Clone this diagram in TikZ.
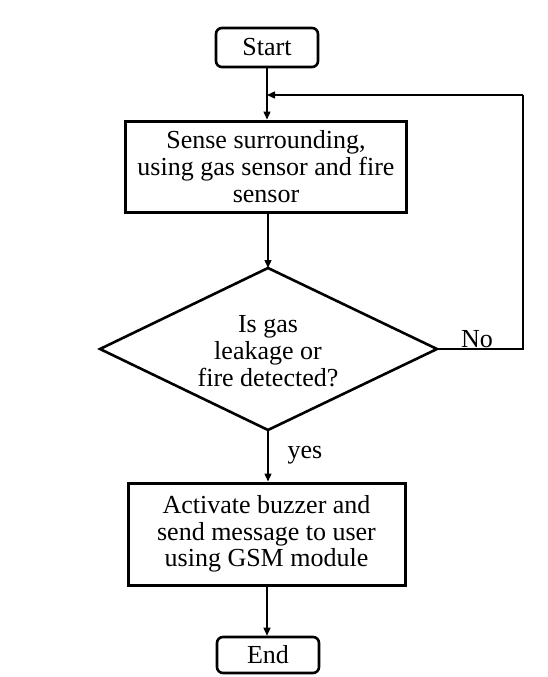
\documentclass[tikz,border=0pt]{standalone}
\usepackage{fontspec}
\setmainfont{Liberation Serif}
\usetikzlibrary{arrows.meta}
\begin{document}
\begin{tikzpicture}[x=1pt,y=-1pt,
  every node/.style={font=\fontsize{26}{26.7}\selectfont, align=center, inner sep=0pt},
  term/.style={draw, line width=2.6pt, rounded corners=6pt},
  proc/.style={draw, line width=3pt},
  conn/.style={line width=1.3pt},
  arr/.style={conn, -{Triangle[length=8pt,width=7pt]}}]
\useasboundingbox[fill=white] (0,0) rectangle (548,677);
\node[term, minimum width=102pt, minimum height=39pt] (start) at (267,47.5) {Start};
\node[proc, minimum width=281pt, minimum height=91pt] (sense) at (266,166.5) {Sense surrounding,\\using gas sensor and fire\\sensor};
\coordinate (dT) at (268,268);
\coordinate (dR) at (437,349);
\coordinate (dB) at (268,430);
\coordinate (dL) at (100,349);
\draw[line width=2.6pt, line join=miter] (dT) -- (dR) -- (dB) -- (dL) -- cycle;
\node (q) at (268,351) {Is gas\\leakage or\\fire detected?};
\node[proc, minimum width=277pt, minimum height=102pt] (act) at (266.5,534) {Activate buzzer and\\send message to user\\using GSM module};
\node[term, minimum width=102pt, minimum height=36pt] (end) at (268,655) {End};
\coordinate (j) at (267,95);
\coordinate (c1) at (523,349);
\coordinate (c2) at (523,95);
\draw[arr] (start.south -| j) -- (sense.north -| j);
\draw[arr] (sense.south -| dT) -- (dT);
\draw[arr] (dB) -- (act.north -| dB);
\draw[arr] (act.south -| j) -- (end.north -| j);
\draw[conn] (dR) -- (c1) -- (c2);
\draw[arr] (c2) -- (j);
\node (no) at (477,339) {No};
\node (yes) at (305,455) {yes};
\end{tikzpicture}
\end{document}
